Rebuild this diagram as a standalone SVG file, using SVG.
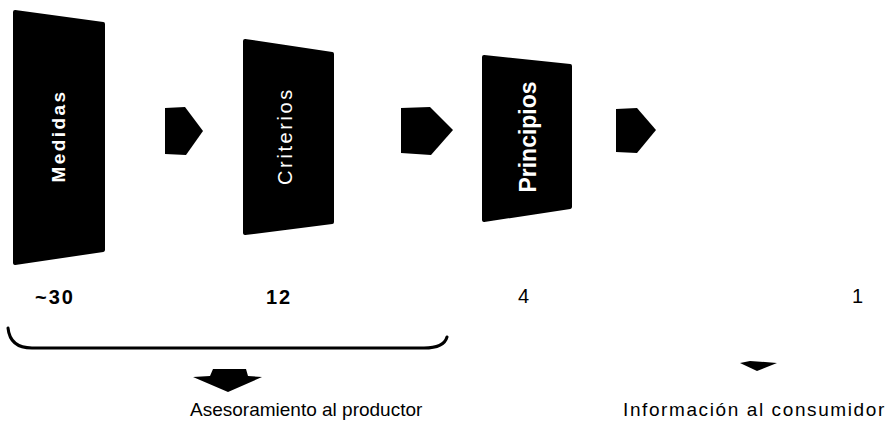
<svg xmlns="http://www.w3.org/2000/svg" width="888" height="425" viewBox="0 0 888 425">
<style>
.box{fill:#000;stroke:#000;stroke-width:4;stroke-linejoin:round}
.arr{fill:#000}
.vt{fill:#fff;font-family:"Liberation Sans",Arial,sans-serif;text-anchor:middle}
.num{fill:#000;font-family:"Liberation Sans",Arial,sans-serif;font-size:20px}
.lbl{fill:#000;font-family:"Liberation Sans",Arial,sans-serif;font-size:19px}
</style>
<rect width="888" height="425" fill="#fff"/>
<g id="medidas">
<polygon class="box" points="15,12 103,24 103,250 15,263"/>
<text class="vt" transform="translate(65,136) rotate(-90)" font-size="19" font-weight="bold" letter-spacing="2.4">Medidas</text>
</g>
<g id="criterios">
<polygon class="box" points="245,41 332,54 332,222 245,233"/>
<text class="vt" transform="translate(292,136) rotate(-90)" font-size="20" letter-spacing="2.6">Criterios</text>
</g>
<g id="principios">
<polygon class="box" points="484,57 570,66 570,207 484,220"/>
<text class="vt" transform="translate(536,137) rotate(-90)" font-size="23" font-weight="bold">Principios</text>
</g>
<g id="connectors">
<polygon class="arr" points="165,108 185,107 203,131 186,155 165,154"/>
<polygon class="arr" points="401,108 430,107 453,130 431,155 401,153"/>
<polygon class="arr" points="616,109 637,108 656,130 637,153 616,152"/>
<path d="M8,328 Q10,348 32,348 L424,348 Q444,348 447,337" fill="none" stroke="#000" stroke-width="3" stroke-linecap="round"/>
<polygon class="arr" points="213,369 246,369 248,376 262,377 228,392 193,377 210,376"/>
<polygon class="arr" points="740,363 750,361 765,362 777,363 757,371"/>
</g>
<g id="numbers">
<text class="num" x="35" y="304" font-size="21" font-weight="bold" letter-spacing="2">~30</text>
<text class="num" x="266" y="304" font-size="21" font-weight="bold" letter-spacing="2">12</text>
<text class="num" x="518" y="303" font-size="18">4</text>
<text class="num" x="852" y="303" font-size="18">1</text>
</g>
<g id="labels">
<text class="lbl" x="190" y="416">Asesoramiento al productor</text>
<text class="lbl" x="623" y="416" letter-spacing="1.6">Información al consumidor</text>
</g>
</svg>
